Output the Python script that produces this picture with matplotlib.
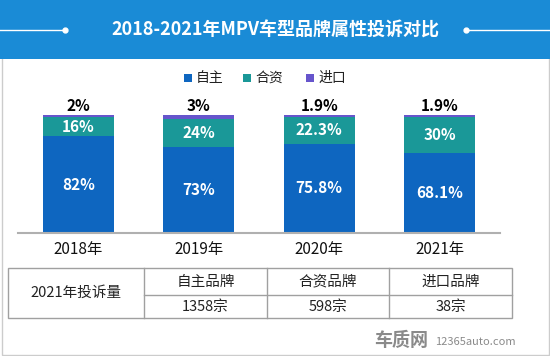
import matplotlib.pyplot as plt
from matplotlib.patches import Rectangle
from matplotlib.lines import Line2D

plt.rcParams['font.family'] = ['Noto Sans CJK SC', 'DejaVu Sans']

# 数据
years = ['2018年', '2019年', '2020年', '2021年']
zizhu = [82, 73, 75.8, 68.1]
hezi = [16, 24, 22.3, 30]
jinkou = [2, 3, 1.9, 1.9]
series_names = ['自主', '合资', '进口']
table_header = ['自主品牌', '合资品牌', '进口品牌']
table_counts = ['1358宗', '598宗', '38宗']
table_title = '2021年投诉量'
title = '2018-2021年MPV车型品牌属性投诉对比'

c_blue = '#0e66c0'
c_teal = '#1a9898'
c_purple = '#6655cc'

W, H = 550, 356
fig = plt.figure(figsize=(5.5, 3.56), dpi=100)
fig.patch.set_facecolor('white')


def fx(px):
    return px / W


def fy(py):
    return 1 - py / H


# 外框和标题栏
fig.patches.append(Rectangle((fx(1.5), fy(354.5)), fx(547), 352 / H, transform=fig.transFigure,
                             facecolor='white', edgecolor='#cccccc', lw=1, zorder=-2))
fig.patches.append(Rectangle((0, fy(59)), 1, 59 / H, transform=fig.transFigure,
                             facecolor='#1a8bd6', edgecolor='none', zorder=-1))
fig.lines.append(Line2D([0, fx(65)], [fy(30), fy(30)], transform=fig.transFigure, color='white', lw=1))
fig.lines.append(Line2D([fx(466), 1], [fy(30), fy(30)], transform=fig.transFigure, color='white', lw=1))
fig.lines.append(Line2D([fx(65), fx(466)], [fy(30), fy(30)], transform=fig.transFigure, color='white',
                        lw=0, marker='o', ms=3.5))
fig.text(0.5, fy(30), title, color='white', fontsize=13, fontweight='bold', ha='center', va='center')

# 图例
leg_x = [184, 243, 306]
for name, col, x in zip(series_names, [c_blue, c_teal, c_purple], leg_x):
    fig.patches.append(Rectangle((fx(x), fy(82)), fx(8), 8 / H, transform=fig.transFigure,
                                 facecolor=col, edgecolor='none'))
    fig.text(fx(x + 12), fy(78), name, fontsize=10, va='center', ha='left', color='#222222')

# 柱状图
ax = fig.add_axes([fx(18), fy(233), fx(482), (233 - 115) / H])
ax.set_zorder(2)
xs = range(len(years))
w = 0.59
ax.bar(xs, zizhu, w, color=c_blue)
ax.bar(xs, hezi, w, bottom=zizhu, color=c_teal)
bot2 = [a + b for a, b in zip(zizhu, hezi)]
ax.bar(xs, jinkou, w, bottom=bot2, color=c_purple)
ax.set_xlim(-0.5, 3.5)
ax.set_ylim(0, 100)
for i in xs:
    ax.text(i, zizhu[i] / 2, f'{zizhu[i]:g}%', color='white', fontsize=11, fontweight='bold',
            ha='center', va='center')
    ax.text(i, zizhu[i] + hezi[i] / 2, f'{hezi[i]:g}%', color='white', fontsize=11, fontweight='bold',
            ha='center', va='center')
    ax.text(i, 100.5, f'{jinkou[i]:g}%', color='black', fontsize=11, fontweight='bold',
            ha='center', va='bottom')
ax.set_yticks([])
ax.set_xticks(list(xs))
ax.set_xticklabels(years, fontsize=11, color='#111111')
ax.tick_params(axis='x', length=0, pad=6)
for s in ['top', 'right', 'left']:
    ax.spines[s].set_visible(False)
ax.spines['bottom'].set_color('#b0b0b0')
ax.spines['bottom'].set_linewidth(1.5)
ax.patch.set_alpha(0)

# 表格
tx0, tx1, ty0, ty1, tym = 8, 512, 268, 318, 295
cols = [8, 144, 267, 389, 512]
lc = '#a0a0a0'
fig.patches.append(Rectangle((fx(tx0), fy(ty1)), fx(tx1 - tx0), (ty1 - ty0) / H, transform=fig.transFigure,
                             facecolor='none', edgecolor=lc, lw=1))
for c in cols[1:-1]:
    fig.lines.append(Line2D([fx(c), fx(c)], [fy(ty0), fy(ty1)], transform=fig.transFigure, color=lc, lw=1))
fig.lines.append(Line2D([fx(cols[1]), fx(tx1)], [fy(tym), fy(tym)], transform=fig.transFigure, color=lc, lw=1))
fig.text(fx((cols[0] + cols[1]) / 2), fy((ty0 + ty1) / 2), table_title, fontsize=10.5,
         ha='center', va='center', color='#222222')
for k in range(3):
    cx = fx((cols[k + 1] + cols[k + 2]) / 2)
    fig.text(cx, fy((ty0 + tym) / 2), table_header[k], fontsize=10.5, ha='center', va='center', color='#222222')
    fig.text(cx, fy((tym + ty1) / 2), table_counts[k], fontsize=10.5, ha='center', va='center', color='#222222')

# 水印
fig.text(fx(374), fy(341), '车质网', fontsize=13, fontweight='bold', color='#8a8a8a', ha='left', va='center')
fig.text(fx(435), fy(342), '12365auto.com', fontsize=8, color='#8a8a8a', ha='left', va='center')

fig.savefig('out.png', dpi=100)
